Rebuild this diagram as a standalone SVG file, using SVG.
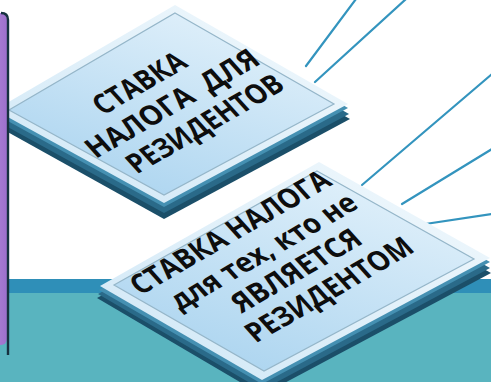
<svg xmlns="http://www.w3.org/2000/svg" width="491" height="382" viewBox="0 0 491 382">
<defs>
<style>
.conn{stroke:#3394be;stroke-width:2.2;fill:none;stroke-linecap:round}
.s1{fill:#1b4f69}.s2{fill:#2a6a89}.s3{fill:#4590b2}
.face{fill:url(#gFace)}
.inner{fill:url(#gInner);stroke:#95b6c9;stroke-width:1.2}
.t{font-family:"Open Sans","Noto Sans","DejaVu Sans",sans-serif;font-weight:700;font-size:29px;fill:#0d0d0d;text-anchor:middle;white-space:pre}
</style>
<linearGradient id="gFace" x1="1" y1="0" x2="0" y2="1">
<stop offset="0" stop-color="#f2f9fd"/>
<stop offset="1" stop-color="#cfe7f6"/>
</linearGradient>
<linearGradient id="gInner" x1="0.8" y1="0" x2="0.2" y2="1">
<stop offset="0" stop-color="#e4f2fb"/>
<stop offset="1" stop-color="#a9d3ef"/>
</linearGradient>
<linearGradient id="gBar" x1="0" y1="0" x2="1" y2="0">
<stop offset="0" stop-color="#b48ad9"/>
<stop offset="1" stop-color="#9d70cc"/>
</linearGradient>
</defs>
<rect width="491" height="382" fill="#ffffff"/>
<g id="band">
<rect x="0" y="293" width="491" height="89" fill="#59b4bf"/>
<rect x="0" y="279" width="491" height="14" fill="#2f8fb8"/>
</g>
<g id="connectors">
<line class="conn" x1="306" y1="66" x2="356" y2="-1"/>
<line class="conn" x1="315" y1="82" x2="406" y2="-1"/>
<line class="conn" x1="362" y1="185" x2="492" y2="74"/>
<line class="conn" x1="402" y1="204" x2="492" y2="149"/>
<line class="conn" x1="412" y1="226" x2="492" y2="214"/>
</g>
<g id="tile1">
<polygon class="s1" points="175,20 350,119 164,219 -5,125"/>
<polygon class="s2" points="175,15 349,114 164,213 -5,120"/>
<polygon class="s3" points="175,9 348,108 164,207 -5,114"/>
<polygon class="face" points="175,5 348,104 164,203 -5,110"/>
<polygon class="inner" points="175,13 334,104 164,195 9,110"/>
<g transform="translate(179,111) rotate(-30) skewX(12)">
<text class="t" x="-11" y="-34" textLength="100" lengthAdjust="spacingAndGlyphs">СТАВКА</text>
<text class="t" x="0" y="0" textLength="192" lengthAdjust="spacingAndGlyphs">НАЛОГА  ДЛЯ</text>
<text class="t" x="11" y="34" textLength="173" lengthAdjust="spacingAndGlyphs">РЕЗИДЕНТОВ</text>
</g>
</g>
<g id="bar">
<rect x="-14" y="13" width="21" height="332" rx="6" fill="url(#gBar)"/>
<path d="M1,13 Q8,13 8,20 L8,355" fill="none" stroke="#16313f" stroke-width="2.4"/>
</g>
<g id="tile2">
<polygon class="s1" points="319,177 491,273 262,395 97,298"/>
<polygon class="s2" points="319,172 490,268 262,390 98,294"/>
<polygon class="s3" points="319,166 490,262 262,384 99,290"/>
<polygon class="face" points="319,162 490,258 262,380 100,286"/>
<polygon class="inner" points="317,171 474,259 264,371 114,285"/>
<g transform="translate(237,240) rotate(-30) skewX(12)">
<text class="t" x="0" y="0" textLength="223" lengthAdjust="spacingAndGlyphs">СТАВКА НАЛОГА</text>
<text class="t" x="12" y="33" textLength="208" lengthAdjust="spacingAndGlyphs">для тех, кто не</text>
<text class="t" x="24" y="66" textLength="142" lengthAdjust="spacingAndGlyphs">ЯВЛЯЕТСЯ</text>
<text class="t" x="36" y="99" textLength="185" lengthAdjust="spacingAndGlyphs">РЕЗИДЕНТОМ</text>
</g>
</g>
</svg>
